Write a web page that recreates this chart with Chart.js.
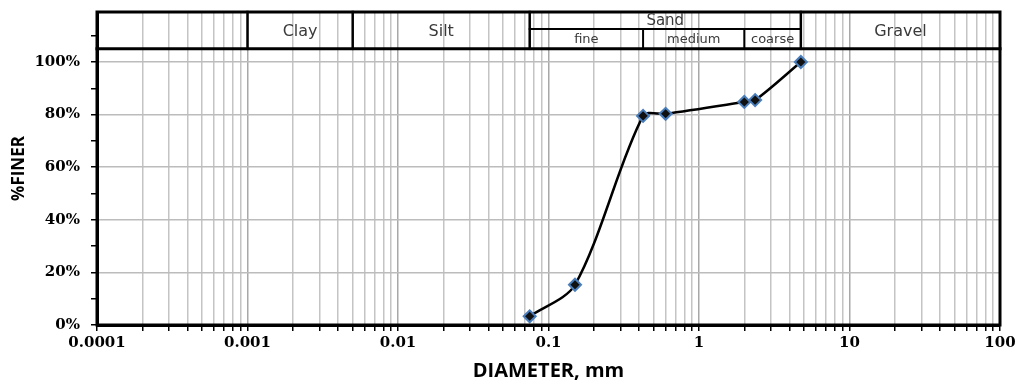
<!DOCTYPE html>
<html>
<head>
<meta charset="utf-8">
<script src="https://cdn.jsdelivr.net/npm/chart.js@4/dist/chart.umd.min.js"></script>
<style>
  html, body { margin: 0; padding: 0; background: #fff; }
  #wrap { width: 1019px; height: 385px; }
</style>
</head>
<body>
<div id="wrap"><canvas id="gradationChart"></canvas></div>
<script>
// sieve results: diameter (mm) and percent passing
const diameters = [0.075, 0.15, 0.425, 0.6, 2.0, 2.36, 4.75];
const percentFiner = [3.3, 15.3, 79.5, 80.3, 84.8, 85.5, 100];

// axis ranges and ticks
const xDecades = [0.0001, 0.001, 0.01, 0.1, 1, 10, 100];
const yLabelValues = [0, 20, 40, 60, 80, 100];
const yMinorStep = 5;
const yTop = 119;

// soil classification bands across the top
const headerBase = 105;
const sandDivider = 112.5;
const zones = [
    { name: 'Clay', from: 0.001, to: 0.005 },
    { name: 'Silt', from: 0.005, to: 0.075 },
    { name: 'Gravel', from: 4.75, to: 100 }
];
const sandZone = { name: 'Sand', from: 0.075, to: 4.75 };
const sandParts = [
    { name: 'fine', from: 0.075, to: 0.425 },
    { name: 'medium', from: 0.425, to: 2 },
    { name: 'coarse', from: 2, to: 4.75 }
];

const isDecade = v => Math.abs(Math.log10(v) - Math.round(Math.log10(v))) < 1e-9;

const frameAndHeader = {
    id: 'frameAndHeader',
    afterDraw(chart) {
        const { ctx, chartArea: a, scales: { x, y } } = chart;
        const px = v => x.getPixelForValue(v);
        const py = v => y.getPixelForValue(v);

        ctx.save();
        ctx.strokeStyle = '#000';
        ctx.lineCap = 'square';

        // outer frame
        ctx.lineWidth = 3;
        ctx.strokeRect(a.left, a.top, a.right - a.left, a.bottom - a.top);

        // header base line
        ctx.beginPath();
        ctx.moveTo(a.left, py(headerBase));
        ctx.lineTo(a.right, py(headerBase));
        ctx.stroke();

        // zone dividers, full header height
        ctx.lineWidth = 2.5;
        [0.001, 0.005, 0.075, 4.75].forEach(d => {
            ctx.beginPath();
            ctx.moveTo(px(d), a.top);
            ctx.lineTo(px(d), py(headerBase));
            ctx.stroke();
        });

        // sand sub-bands
        ctx.lineWidth = 2;
        ctx.beginPath();
        ctx.moveTo(px(sandZone.from), py(sandDivider));
        ctx.lineTo(px(sandZone.to), py(sandDivider));
        ctx.stroke();
        [0.425, 2].forEach(d => {
            ctx.beginPath();
            ctx.moveTo(px(d), py(sandDivider));
            ctx.lineTo(px(d), py(headerBase));
            ctx.stroke();
        });

        // labels
        ctx.fillStyle = '#3a3a3a';
        ctx.textAlign = 'center';
        ctx.textBaseline = 'middle';
        const mid = (z) => (px(z.from) + px(z.to)) / 2;

        ctx.font = '16px "DejaVu Sans", sans-serif';
        const bandMid = (a.top + py(headerBase)) / 2;
        zones.forEach(z => ctx.fillText(z.name, mid(z), bandMid + 1));

        ctx.font = '15px "DejaVu Sans", sans-serif';
        ctx.fillText(sandZone.name, mid(sandZone), (a.top + py(sandDivider)) / 2 + 1);

        ctx.font = '13px "DejaVu Sans", sans-serif';
        const subMid = (py(sandDivider) + py(headerBase)) / 2;
        sandParts.forEach(z => ctx.fillText(z.name, mid(z), subMid + 1));

        ctx.restore();
    }
};

const tickFont = { family: '"DejaVu Serif", serif', size: 15, weight: 'bold' };

new Chart(document.getElementById('gradationChart'), {
    type: 'scatter',
    data: {
        datasets: [{
            data: diameters.map((d, i) => ({ x: d, y: percentFiner[i] })),
            showLine: true,
            borderColor: '#000',
            borderWidth: 2.5,
            tension: 0.3,
            pointStyle: 'rectRot',
            pointRadius: 6,
            pointBackgroundColor: '#111',
            pointBorderColor: '#4a7ebb',
            pointBorderWidth: 2
        }]
    },
    options: {
        responsive: true,
        maintainAspectRatio: false,
        animation: false,
        layout: { padding: { left: 4, right: 19, top: 12, bottom: 0 } },
        plugins: {
            legend: { display: false },
            tooltip: { enabled: false }
        },
        scales: {
            x: {
                type: 'logarithmic',
                min: xDecades[0],
                max: xDecades[xDecades.length - 1],
                afterBuildTicks(scale) {
                    const ticks = [];
                    xDecades.forEach((d, i) => {
                        if (i === xDecades.length - 1) {
                            ticks.push({ value: d });
                            return;
                        }
                        for (let m = 1; m <= 9; m++) {
                            ticks.push({ value: Number((m * d).toPrecision(3)) });
                        }
                    });
                    scale.ticks = ticks;
                },
                afterFit(scale) { scale.height = 60; },
                border: { display: true, color: '#000', width: 3 },
                grid: {
                    color: c => isDecade(c.tick.value) ? '#a8a8a8' : '#c4c4c4',
                    lineWidth: 1.5,
                    tickColor: '#000',
                    tickLength: 6,
                    tickWidth: 1.5
                },
                ticks: {
                    autoSkip: false,
                    maxRotation: 0,
                    padding: 3,
                    color: '#000',
                    font: tickFont,
                    callback: v => isDecade(v) ? String(v) : ''
                },
                title: {
                    display: true,
                    text: 'DIAMETER, mm',
                    color: '#000',
                    font: { family: '"Open Sans", sans-serif', size: 20, weight: 'bold' },
                    padding: { top: 0, bottom: 2 }
                }
            },
            y: {
                min: 0,
                max: yTop,
                afterBuildTicks(scale) {
                    const ticks = [];
                    for (let v = 0; v < yTop; v += yMinorStep) ticks.push({ value: v });
                    scale.ticks = ticks;
                },
                afterFit(scale) {
                    scale.width = 93;
                    scale.paddingTop = 0;
                    scale.paddingBottom = 0;
                },
                border: { display: true, color: '#000', width: 3 },
                grid: {
                    color: c => (yLabelValues.includes(c.tick.value) && c.tick.value > 0) ? '#bcbcbc' : 'rgba(0,0,0,0)',
                    lineWidth: 1.5,
                    tickColor: '#000',
                    tickLength: 6,
                    tickWidth: 1.5
                },
                ticks: {
                    padding: 11,
                    color: '#000',
                    font: tickFont,
                    callback: v => yLabelValues.includes(v) ? v + '%' : ''
                },
                title: {
                    display: true,
                    text: '%FINER',
                    color: '#000',
                    font: { family: '"Open Sans", sans-serif', size: 17, weight: 'bold' },
                    padding: { top: 5, bottom: 0 }
                }
            }
        }
    },
    plugins: [frameAndHeader]
});
</script>
</body>
</html>
